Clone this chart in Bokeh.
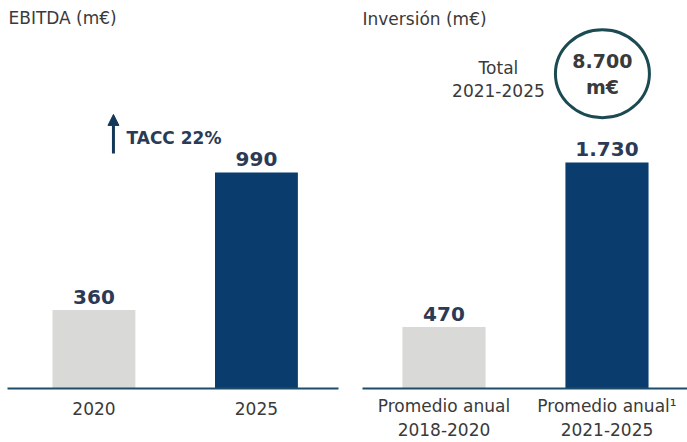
from bokeh.plotting import figure
from bokeh.layouts import row
from bokeh.models import Range1d, FixedTicker, Label, Arrow, NormalHead, ColumnDataSource
from bokeh.embed import file_html
from bokeh.resources import INLINE
from bokeh.core.properties import value

# ---- data ----
ebitda_title = "EBITDA (m€)"
ebitda_categories = ["2020", "2025"]
ebitda_values = [360, 990]
ebitda_colors = ["#d9d9d7", "#0a3d6e"]
tacc_text = "TACC 22%"

inv_title = "Inversión (m€)"
inv_categories = ["Promedio anual\n2018-2020", "Promedio anual\u00b9\n2021-2025"]
inv_values = [470, 1730]
inv_colors = ["#d9d9d7", "#0a3d6e"]
total_label = "Total\n2021-2025"
total_value = 8700
total_unit = "m€"

FONT = "DejaVu Sans"
TEXT_COLOR = "#3a3a3a"
VALUE_COLOR = "#2b3a55"
AXIS_COLOR = "#1e4d6b"


def fmt(v):
    return f"{v:,}".replace(",", ".")


def make_fig(width, categories, values, colors, x_start, x_end, y_end,
             border_left, border_right, standoff):
    p = figure(width=width, height=442, output_backend="svg", toolbar_location=None,
               x_range=Range1d(x_start, x_end), y_range=Range1d(0, y_end),
               min_border_left=border_left, min_border_right=border_right,
               min_border_top=0, min_border_bottom=54)
    p.outline_line_color = None
    p.xgrid.visible = False
    p.ygrid.visible = False
    p.yaxis.visible = False
    p.background_fill_color = "white"
    p.border_fill_color = "white"
    idx = list(range(len(categories)))
    src = ColumnDataSource(dict(x=idx, top=values, color=colors,
                                label=[fmt(v) for v in values]))
    p.vbar(x="x", top="top", width=0.51, fill_color="color", line_color=None, source=src)
    p.text(x="x", y="top", text="label", source=src, text_align="center",
           text_baseline="bottom", y_offset=-6, text_font=value(FONT),
           text_font_size="20px", text_font_style="bold", text_color=VALUE_COLOR)
    ax = p.xaxis[0]
    ax.ticker = FixedTicker(ticks=idx)
    ax.major_label_overrides = {i: c for i, c in zip(idx, categories)}
    ax.axis_line_color = AXIS_COLOR
    ax.axis_line_width = 2
    ax.major_tick_line_color = None
    ax.minor_tick_line_color = None
    ax.major_tick_out = 0
    ax.major_tick_in = 0
    ax.major_label_standoff = standoff
    ax.major_label_text_font = FONT
    ax.major_label_text_font_size = "17px"
    ax.major_label_text_color = TEXT_COLOR
    return p


# ---- left: EBITDA ----
left = make_fig(348, ebitda_categories, ebitda_values, ebitda_colors,
                -0.532, 1.505, 1778, 7, 10, 13)
left.add_layout(Label(x=-0.526, y=1696, text=ebitda_title, text_font=FONT,
                      text_font_size="17px", text_color=TEXT_COLOR,
                      text_baseline="middle", text_align="left"))
left.add_layout(Arrow(x_start=0.12, y_start=1077, x_end=0.12, y_end=1256,
                      line_color="#14385a", line_width=3,
                      end=NormalHead(size=11, fill_color="#14385a", line_color="#14385a")))
left.add_layout(Label(x=0.2, y=1150, text=tacc_text, text_font=FONT,
                      text_font_size="17px", text_font_style="bold", text_color=VALUE_COLOR,
                      text_baseline="middle", text_align="left"))

# ---- right: Inversión ----
right = make_fig(339, inv_categories, inv_values, inv_colors,
                 -0.5, 1.494, 2970, 14, 0, 7)
right.add_layout(Label(x=-0.5, y=2832, text=inv_title, text_font=FONT,
                       text_font_size="17px", text_color=TEXT_COLOR,
                       text_baseline="middle", text_align="left"))
right.ellipse(x=[0.972], y=[2410], width=94, height=88, width_units="screen",
              height_units="screen", fill_color=None, line_color="#1b4a52", line_width=3)
right.add_layout(Label(x=0.972, y=2505, text=fmt(total_value), text_font=FONT,
                       text_font_size="19px", text_font_style="bold", text_color=TEXT_COLOR,
                       text_baseline="middle", text_align="center"))
right.add_layout(Label(x=0.972, y=2306, text=total_unit, text_font=FONT,
                       text_font_size="19px", text_font_style="bold", text_color=TEXT_COLOR,
                       text_baseline="middle", text_align="center"))
tl1, tl2 = total_label.split("\n")
right.add_layout(Label(x=0.334, y=2455, text=tl1, text_font=FONT,
                       text_font_size="17px", text_color=TEXT_COLOR,
                       text_baseline="middle", text_align="center"))
right.add_layout(Label(x=0.334, y=2280, text=tl2, text_font=FONT,
                       text_font_size="17px", text_color=TEXT_COLOR,
                       text_baseline="middle", text_align="center"))

p = row(left, right)
open("out.html", "w").write(file_html(p, INLINE))
